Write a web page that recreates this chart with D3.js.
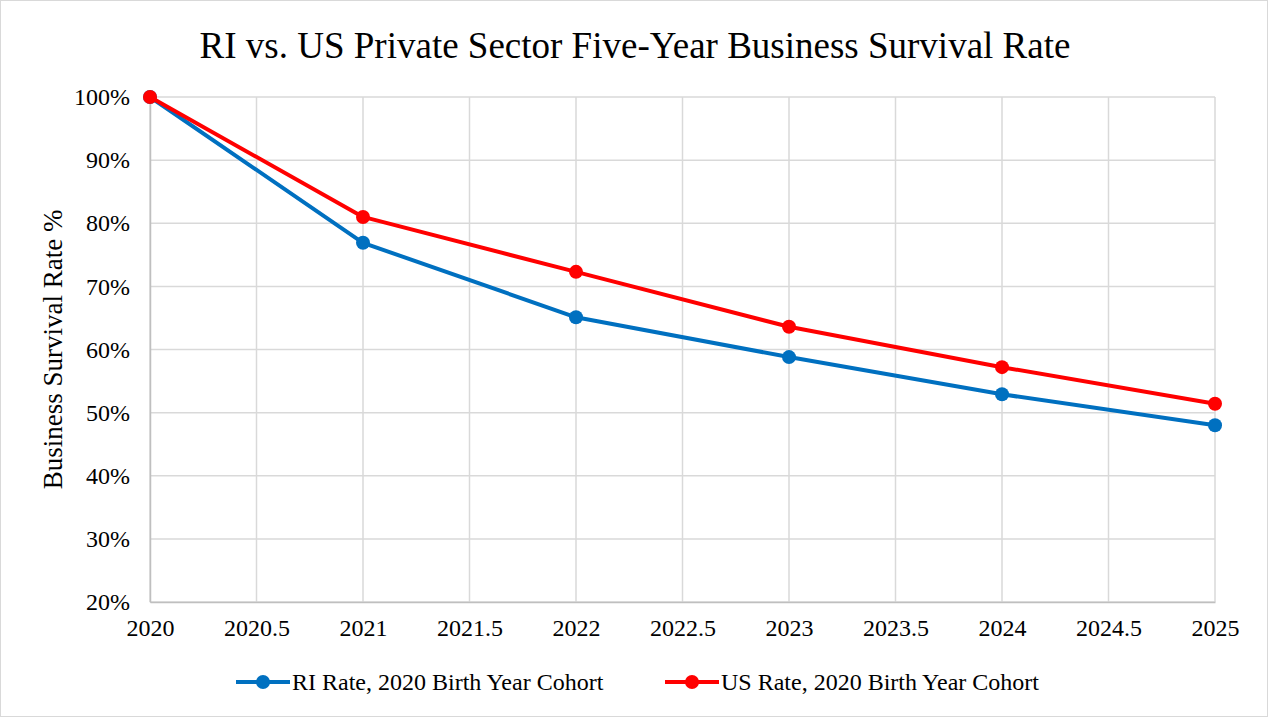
<!DOCTYPE html>
<html>
<head>
<meta charset="utf-8">
<script src="https://cdn.jsdelivr.net/npm/d3@7"></script>
<style>
  html, body { margin: 0; padding: 0; background: #fff; }
  svg { display: block; }
  text { font-family: "Liberation Serif", "Times New Roman", serif; fill: #000; }
</style>
</head>
<body>
<svg id="chart" width="1268" height="717"></svg>
<script>
// Five-year survival of the 2020 birth-year cohort
const years = [2020, 2021, 2022, 2023, 2024, 2025];
const riRate = [100, 76.9, 65.1, 58.8, 52.9, 48.0];
const usRate = [100, 81.0, 72.3, 63.6, 57.2, 51.4];
const xTicks = [2020, 2020.5, 2021, 2021.5, 2022, 2022.5, 2023, 2023.5, 2024, 2024.5, 2025];
const yTicks = [20, 30, 40, 50, 60, 70, 80, 90, 100];
const seriesNames = ["RI Rate, 2020 Birth Year Cohort", "US Rate, 2020 Birth Year Cohort"];
const seriesColors = ["#0070C0", "#FF0000"];

const W = 1268, H = 717;
const FONT = '"Liberation Serif", "Times New Roman", serif';
const svg = d3.select("#chart");

// outer frame
svg.append("rect").attr("x", 0.5).attr("y", 0.5).attr("width", W - 1).attr("height", H - 1)
  .attr("fill", "#fff").attr("stroke", "#d9d9d9").attr("stroke-width", 1);

const plot = { left: 150, right: 1215, top: 97, bottom: 602 };
const x = d3.scaleLinear().domain([2020, 2025]).range([plot.left, plot.right]);
const y = d3.scaleLinear().domain([20, 100]).range([plot.bottom, plot.top]);

// gridlines
svg.append("g").selectAll("line").data(yTicks).join("line")
  .attr("x1", plot.left).attr("x2", plot.right)
  .attr("y1", d => y(d)).attr("y2", d => y(d))
  .attr("stroke", "#d9d9d9").attr("stroke-width", 1.5);
svg.append("g").selectAll("line").data(xTicks).join("line")
  .attr("x1", d => x(d)).attr("x2", d => x(d))
  .attr("y1", plot.top).attr("y2", plot.bottom)
  .attr("stroke", "#d9d9d9").attr("stroke-width", 1.5);

// axes
const xAxis = svg.append("g").attr("transform", `translate(0,${plot.bottom})`)
  .call(d3.axisBottom(x).tickValues(xTicks).tickSize(0).tickPadding(17).tickFormat(d => String(d)));
const yAxis = svg.append("g").attr("transform", `translate(${plot.left},0)`)
  .call(d3.axisLeft(y).tickValues(yTicks).tickSize(0).tickPadding(20).tickFormat(d => d + "%"));
[xAxis, yAxis].forEach(g => {
  g.attr("font-family", FONT).attr("font-size", 24);
  g.select(".domain").attr("stroke", "#bfbfbf").attr("stroke-width", 1.5);
  g.selectAll("text").attr("fill", "#000");
});

// title
svg.append("text").attr("x", 635).attr("y", 58).attr("text-anchor", "middle")
  .attr("font-family", FONT).attr("font-size", 37)
  .text("RI vs. US Private Sector Five-Year Business Survival Rate");

// y-axis title
svg.append("text").attr("transform", `translate(62,${(plot.top + plot.bottom) / 2 - 0}) rotate(-90)`)
  .attr("text-anchor", "middle").attr("font-family", FONT).attr("font-size", 27)
  .text("Business Survival Rate %");

// series
const line = d3.line().x(d => x(d[0])).y(d => y(d[1]));
[riRate, usRate].forEach((vals, i) => {
  const pts = years.map((yr, j) => [yr, vals[j]]);
  const g = svg.append("g");
  g.append("path").datum(pts).attr("d", line).attr("fill", "none")
    .attr("stroke", seriesColors[i]).attr("stroke-width", 4).attr("stroke-linejoin", "round");
  g.selectAll("circle").data(pts).join("circle")
    .attr("cx", d => x(d[0])).attr("cy", d => y(d[1])).attr("r", 7)
    .attr("fill", seriesColors[i]);
});

// legend
const legendX = [236, 665];
seriesNames.forEach((name, i) => {
  const lx = legendX[i], ly = 682;
  const g = svg.append("g");
  g.append("line").attr("x1", lx).attr("x2", lx + 54).attr("y1", ly).attr("y2", ly)
    .attr("stroke", seriesColors[i]).attr("stroke-width", 4);
  g.append("circle").attr("cx", lx + 27).attr("cy", ly).attr("r", 7).attr("fill", seriesColors[i]);
  g.append("text").attr("x", lx + 56).attr("y", ly).attr("dy", "0.33em")
    .attr("font-family", FONT).attr("font-size", 24).text(name);
});
</script>
</body>
</html>
